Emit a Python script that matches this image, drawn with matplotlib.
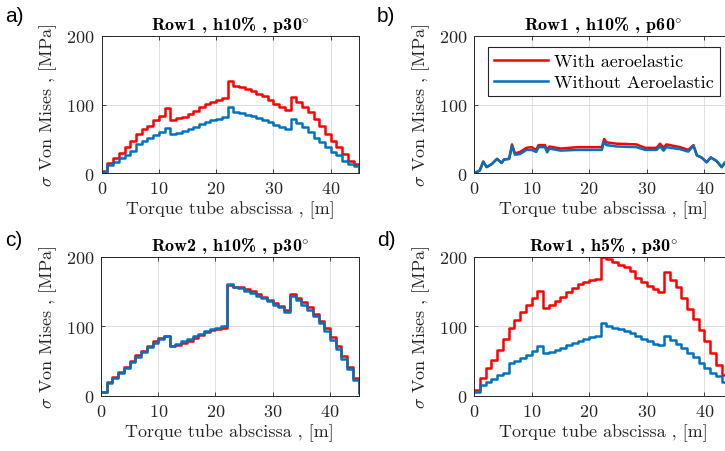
import numpy as np
import matplotlib
matplotlib.use("Agg")
import matplotlib.pyplot as plt

plt.rcParams["font.family"] = ["cmr10", "DejaVu Serif"]
plt.rcParams["mathtext.fontset"] = "cm"
plt.rcParams["axes.formatter.use_mathtext"] = True

# ---------------- data ----------------
x_edges = np.arange(0, 46)  # element boundaries along the torque tube [m]

a_with = [3, 15, 22, 30, 38, 47, 57, 64, 69, 77, 84, 95, 77, 80, 82, 86, 91, 97, 101, 103, 106, 109,
          134, 127, 125, 122, 120, 115, 112, 107, 101, 96, 92,
          111, 103, 96, 89, 79, 69, 57, 47, 38, 28, 18, 14, 3]
a_without = [2, 12, 17, 22, 26, 33, 42, 47, 51, 55, 60, 66, 57, 59, 61, 64, 67, 71, 74, 77, 79, 82,
             97, 89, 87, 85, 83, 80, 77, 74, 70, 67, 64,
             79, 73, 67, 60, 52, 45, 38, 31, 26, 18, 14, 11, 2]

b_x = [0, 1, 1.6, 2.2, 3.1, 4.0, 4.8, 5.2, 6.1, 6.6, 7.1, 8, 9.1, 10, 10.8, 11.2, 12.3, 12.7, 13.1, 15,
       18, 20.7, 22.2, 22.6, 23, 24.8, 28.2, 29.7, 31.7, 32.3, 32.9, 33.4, 35.8, 37.2, 38.1, 38.7, 39.5,
       40.4, 41.1, 42.1, 43, 43.6, 45]
b_with = [0, 4, 17, 9, 13.5, 21, 15, 20, 21, 42, 29, 31, 37, 38, 34, 41, 41, 34, 39, 36,
          38, 38, 38, 50, 45, 43, 42, 37, 37, 43, 37, 42, 38, 34, 41, 26, 23,
          16, 23, 18, 9, 16, 22]
b_without = [0, 4, 17, 9, 13.5, 21, 15, 20, 21, 40, 27, 28, 34, 34, 31, 38, 38, 30.5, 36, 33,
             34, 34, 34, 46, 41, 39, 38, 34, 34, 39, 33, 38, 35, 31.5, 40, 26, 23,
             16, 23, 18, 9, 16, 22]

c_with = [6, 19, 27, 34, 42, 50, 58, 65, 72, 78, 83, 86, 71, 73, 76, 79, 83, 87, 91, 94, 96, 98,
          160, 157, 156, 153, 150, 146, 142, 138, 133, 129, 123,
          147, 141, 135, 127, 118, 108, 97, 84, 71, 57, 42, 25, 5]
c_without = [5, 18, 26, 33, 40, 48, 56, 63, 70, 76, 82, 86, 72, 75, 78, 81, 86, 89, 93, 96, 98, 100,
             161, 156, 155, 151, 148, 144, 140, 136, 131, 127, 121,
             143, 137, 131, 123, 114, 104, 93, 80, 67, 53, 38, 22, 4]

d_with = [8, 25, 40, 51, 66, 82, 97, 109, 120, 130, 140, 151, 126, 130, 136, 142, 149, 155, 161, 163, 166, 168,
          199, 197, 192, 188, 185, 179, 170, 164, 158, 154, 149,
          178, 166, 156, 140, 125, 111, 94, 78, 61, 44, 30, 16, 5]
d_without = [6, 15, 20, 24, 30, 33, 47, 50, 54, 58, 64, 71, 61, 63, 66, 69, 73, 76, 79, 81, 84, 86,
             105, 100, 98, 96, 93, 90, 86, 82, 79, 75, 73,
             86, 80, 74, 68, 61, 56, 47, 40, 32, 28, 20, 12, 3]

titles = [r"Row1 , h10% , p30$^{\circ}$",
          r"Row1 , h10% , p60$^{\circ}$",
          r"Row2 , h10% , p30$^{\circ}$",
          r"Row1 , h5% , p30$^{\circ}$"]
panel_letters = ["a)", "b)", "c)", "d)"]
legend_labels = ["With aeroelastic", "Without Aeroelastic"]
xticks = [0, 10, 20, 30, 40]
yticks = [0, 100, 200]
xlabel = "Torque tube abscissa , [m]"
ylabel = r"$\sigma$ Von Mises , [MPa]"

RED = "#FF0000"
BLUE = "#0072BD"
DARK = "#262626"

# ---------------- figure ----------------
W, H = 725, 452
fig = plt.figure(figsize=(W / 100, H / 100), dpi=100)


def px_axes(l, t, r, b):
    return fig.add_axes([l / W, 1 - b / H, (r - l) / W, (b - t) / H])


axes = [px_axes(101.7, 36.7, 359.3, 174.3),
        px_axes(474, 36.7, 733.2, 174.3),
        px_axes(101.0, 257.7, 358.6, 396.7),
        px_axes(474, 257.7, 733.2, 396.7)]

fs = 13
for i, ax in enumerate(axes):
    ax.set_xlim(0, 45)
    ax.set_ylim(0, 200)
    ax.set_xticks(xticks)
    ax.set_yticks(yticks)
    ax.grid(True, color="#dedede", lw=0.7)
    ax.set_axisbelow(True)
    ax.tick_params(direction="in", length=3, width=0.6, top=True, right=True,
                   labelsize=fs, colors=DARK, pad=5)
    for s in ax.spines.values():
        s.set_color(DARK)
        s.set_linewidth(0.7)
    ax.set_title(titles[i], fontsize=13, pad=5, color="black", family="cmb10")
    ax.set_xlabel(xlabel, fontsize=fs, color=DARK, labelpad=3)
    ax.set_ylabel(ylabel, fontsize=fs, color=DARK, labelpad=5)

lw = 1.8
axes[0].step(x_edges, a_with, where="post", color=RED, lw=lw)
axes[0].step(x_edges, a_without, where="post", color=BLUE, lw=lw)

l1, = axes[1].plot(b_x, b_with, color=RED, lw=lw)
l2, = axes[1].plot(b_x, b_without, color=BLUE, lw=lw)

axes[2].step(x_edges, c_with, where="post", color=RED, lw=lw)
axes[2].step(x_edges, c_without, where="post", color=BLUE, lw=lw)

axes[3].step(x_edges, d_with, where="post", color=RED, lw=lw)
axes[3].step(x_edges, d_without, where="post", color=BLUE, lw=lw)

leg = axes[1].legend([l1, l2], legend_labels, loc="upper right",
                     bbox_to_anchor=((720 - 474) / 259.2, 1 - (48 - 36.7) / 137.6),
                     borderaxespad=0, fancybox=False, framealpha=1, edgecolor=DARK,
                     fontsize=13, handlelength=3.0, handletextpad=0.3,
                     borderpad=0.35, labelspacing=0.3)
leg.get_frame().set_linewidth(0.8)

letter_pos = [(5, 7), (377, 7), (5, 231), (377, 231)]
for (px, py), lab in zip(letter_pos, panel_letters):
    fig.text(px / W, 1 - py / H, lab, fontsize=15, family="Liberation Sans",
             ha="left", va="top")

fig.savefig("out.png", dpi=100)
